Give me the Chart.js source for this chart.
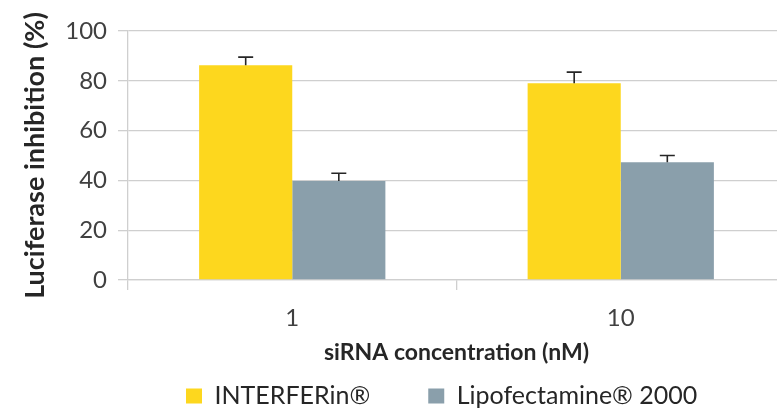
<!DOCTYPE html>
<html>
<head>
<meta charset="utf-8">
<script src="https://cdn.jsdelivr.net/npm/chart.js@4.4.1/dist/chart.umd.min.js"></script>
<style>
    html, body { margin: 0; padding: 0; background: #fff; overflow: hidden; }
    #wrap { width: 785px; height: 409px; }
</style>
</head>
<body>
<div id="wrap"><canvas id="my-chart"></canvas></div>
<script>
// values
const categories = ['1', '10'];
const seriesNames = ['INTERFERin®', 'Lipofectamine® 2000'];
const interferinValues = [86.2, 79.0];
const interferinErrors = [3.3, 4.5];
const lipofectamineValues = [39.8, 47.3];
const lipofectamineErrors = [3.1, 2.7];
const yTicks = [0, 20, 40, 60, 80, 100];

const chartCanvas = document.getElementById('my-chart');
const fontFamily = 'Lato, "Open Sans", sans-serif';

// draws the up-only error bars on top of each bar
const errorBarPlugin = {
    id: 'errorBars',
    afterDatasetsDraw(chart) {
        const ctx = chart.ctx;
        const yScale = chart.scales.y;
        ctx.save();
        ctx.strokeStyle = '#262626';
        ctx.lineWidth = 1.6;
        chart.data.datasets.forEach((ds, i) => {
            const meta = chart.getDatasetMeta(i);
            meta.data.forEach((bar, j) => {
                const top = yScale.getPixelForValue(ds.data[j] + ds.errors[j]);
                ctx.beginPath();
                ctx.moveTo(bar.x, bar.y);
                ctx.lineTo(bar.x, top);
                ctx.moveTo(bar.x - 7.5, top);
                ctx.lineTo(bar.x + 7.5, top);
                ctx.stroke();
            });
        });
        ctx.restore();
    }
};

// legend padding is also the gap between the two items, so pull the legend's
// top edge up so the row lands where it should (bottom stays for the clip)
const legendNudge = {
    id: 'legendNudge',
    afterLayout(chart) {
        const lg = chart.legend;
        lg.top -= lg.options.labels.padding - 17.5;
    }
};

new Chart(chartCanvas.getContext('2d'), {
    type: 'bar',
    data: {
        labels: categories,
        datasets: [
            {
                label: seriesNames[0],
                data: interferinValues,
                errors: interferinErrors,
                backgroundColor: '#FDD71E',
                categoryPercentage: 0.567,
                barPercentage: 1.0
            },
            {
                label: seriesNames[1],
                data: lipofectamineValues,
                errors: lipofectamineErrors,
                backgroundColor: '#8A9FAB',
                categoryPercentage: 0.567,
                barPercentage: 1.0
            }
        ]
    },
    plugins: [errorBarPlugin, legendNudge],
    options: {
        responsive: true,
        maintainAspectRatio: false,
        animation: false,
        layout: {
            padding: { top: 31, right: 0, bottom: 0, left: 0 }
        },
        scales: {
            x: {
                afterFit: scale => {
                    scale.height = 86;
                },
                grid: {
                    offset: true,
                    drawOnChartArea: false,
                    tickLength: 10,
                    color: '#cfcfcf',
                    lineWidth: 1.3
                },
                border: { display: true, color: '#cfcfcf', width: 1.3 },
                ticks: {
                    padding: 14,
                    color: '#404040',
                    font: { family: fontFamily, size: 24 }
                },
                title: {
                    display: true,
                    text: 'siRNA concentration (nM)',
                    color: '#262626',
                    padding: { top: 0, bottom: 0 },
                    font: { family: fontFamily, size: 23, weight: 'bold' }
                }
            },
            y: {
                min: 0,
                max: 100,
                afterBuildTicks: scale => {
                    scale.ticks = yTicks.map(v => ({ value: v }));
                },
                afterFit: scale => {
                    scale.width = 128;
                },
                grid: {
                    tickLength: 10,
                    color: '#cfcfcf',
                    lineWidth: 1.3
                },
                border: { display: true, color: '#cfcfcf', width: 1.3 },
                ticks: {
                    padding: 11,
                    color: '#404040',
                    font: { family: fontFamily, size: 24 }
                },
                title: {
                    display: true,
                    text: 'Luciferase inhibition (%)',
                    color: '#262626',
                    padding: { top: 19, bottom: 0 },
                    font: { family: fontFamily, size: 27, weight: 'bold' }
                }
            }
        },
        plugins: {
            legend: {
                display: true,
                position: 'bottom',
                align: 'start',
                fullSize: false,
                maxHeight: 43,
                labels: {
                    boxWidth: 16,
                    boxHeight: 15,
                    padding: 58,
                    color: '#262626',
                    font: { family: fontFamily, size: 25, lineHeight: 1.0 }
                }
            },
            tooltip: { enabled: false }
        }
    }
});
</script>
</body>
</html>
